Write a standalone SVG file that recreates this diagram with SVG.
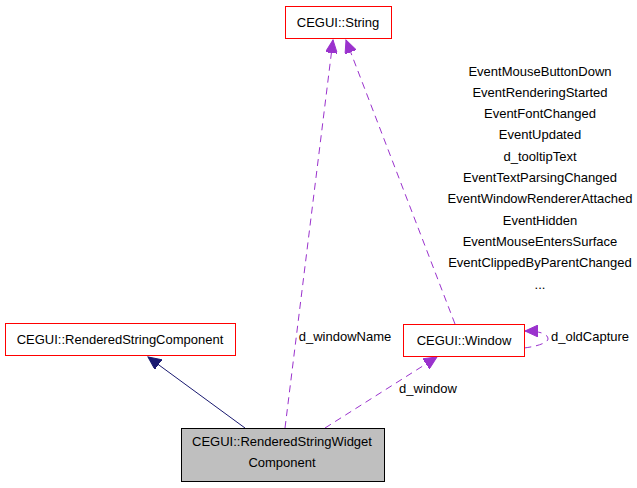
<svg xmlns="http://www.w3.org/2000/svg" width="637" height="488" viewBox="0 0 637 488">
<style>
text{font-family:"Liberation Sans",Arial,sans-serif;font-size:13px;fill:#000;text-anchor:middle}
.box{fill:#fff;stroke:#ff0000;stroke-width:1}
.main{fill:#bfbfbf;stroke:#000;stroke-width:1}
.dep{fill:none;stroke:#9a32cd;stroke-width:1;stroke-dasharray:7,5}
.inh{fill:none;stroke:#191970;stroke-width:1}
</style>
<defs>
<marker id="ap" markerWidth="14" markerHeight="12" refX="13" refY="6" orient="auto" markerUnits="userSpaceOnUse"><path d="M0,0 L13,6 L0,12 z" fill="#9a32cd" stroke="#9a32cd"/></marker>
<marker id="an" markerWidth="14" markerHeight="12" refX="13" refY="6" orient="auto" markerUnits="userSpaceOnUse"><path d="M0,0 L13,6 L0,12 z" fill="#191970" stroke="#191970"/></marker>
</defs>
<rect width="637" height="488" fill="#fff"/>
<g id="connectors">
<path class="inh" d="M245,428 L148,357" marker-end="url(#an)"/>
<path class="dep" d="M285,428 L333,40" marker-end="url(#ap)"/>
<path class="dep" d="M455,324 L346,40" marker-end="url(#ap)"/>
<path class="dep" d="M325,428 L437,357" marker-end="url(#ap)"/>
<path class="dep" d="M524,348 C540,346 548,342 548,339 C548,334 540,331 525,331" marker-end="url(#ap)"/>
</g>
<g id="labels">
<text x="345" y="341">d_windowName</text>
<text x="428" y="393">d_window</text>
<text x="590" y="341">d_oldCapture</text>
<text x="540" y="76">EventMouseButtonDown</text>
<text x="540" y="97">EventRenderingStarted</text>
<text x="540" y="118">EventFontChanged</text>
<text x="540" y="139">EventUpdated</text>
<text x="540" y="161">d_tooltipText</text>
<text x="540" y="182">EventTextParsingChanged</text>
<text x="540" y="203">EventWindowRendererAttached</text>
<text x="540" y="225">EventHidden</text>
<text x="540" y="246">EventMouseEntersSurface</text>
<text x="540" y="267">EventClippedByParentChanged</text>
<text x="540" y="289">...</text>
</g>
<g id="node-string">
<rect class="box" x="285.5" y="6.5" width="106" height="32"/>
<text x="338" y="27">CEGUI::String</text>
</g>
<g id="node-rsc">
<rect class="box" x="5.5" y="323.5" width="230" height="32"/>
<text x="120" y="344">CEGUI::RenderedStringComponent</text>
</g>
<g id="node-window">
<rect class="box" x="403.5" y="324.5" width="121" height="32"/>
<text x="464" y="345">CEGUI::Window</text>
</g>
<g id="node-rswc">
<rect class="main" x="181.5" y="428.5" width="203" height="53"/>
<text x="282" y="446">CEGUI::RenderedStringWidget</text>
<text x="282" y="467">Component</text>
</g>
</svg>
